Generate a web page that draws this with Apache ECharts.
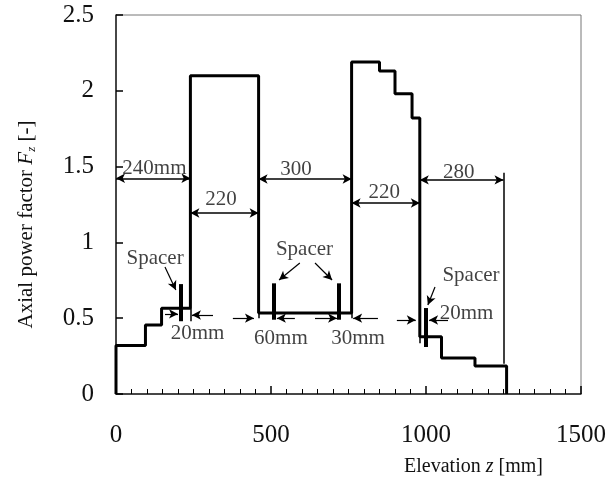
<!DOCTYPE html>
<html>
<head>
<meta charset="utf-8">
<script src="https://cdn.jsdelivr.net/npm/echarts@6/dist/echarts.min.js"></script>
<style>
  html, body { margin: 0; padding: 0; background: #fff; }
  #main { width: 609px; height: 484px; }
</style>
</head>
<body>
<div id="main"></div>
<script>
// step profile: edges of each zone and the level inside it
var zEdges = [0, 95, 147, 240, 460, 760, 850, 900, 955, 980, 1050, 1158, 1260]
var fLevels = [0.32, 0.455, 0.565, 2.1, 0.535, 2.19, 2.13, 1.98, 1.82, 0.378, 0.237, 0.185]

// spacers
var spacerZ = [208, 510, 720, 1000]
var spacerLow = [0.48, 0.49, 0.49, 0.31]
var spacerHigh = [0.725, 0.73, 0.73, 0.567]

// long dimension arrows
var dimText = ['240mm', '220', '300', '220', '280']
var dimFrom = [0, 240, 460, 760, 980]
var dimTo = [240, 460, 760, 980, 1250]
var dimF = [1.423, 1.194, 1.418, 1.26, 1.412]
var dimTextZ = [124, 339, 581, 865, 1106]
var dimTextF = [1.49, 1.28, 1.484, 1.332, 1.464]

// short arrows for the spacer gaps
var gapFromZ = [158, 313, 377, 577, 642, 845, 906, 1071]
var gapToZ = [200, 245, 445, 519, 713, 765, 967, 1010]
var gapF = [0.528, 0.521, 0.5, 0.5, 0.5, 0.5, 0.488, 0.488]

// arrows from the "Spacer" words
var ptrFromZ = [158, 593, 642, 1029]
var ptrFromF = [0.838, 0.864, 0.864, 0.706]
var ptrToZ = [193, 526, 697, 1006]
var ptrToF = [0.686, 0.752, 0.752, 0.587]

// thin extension lines
var extZ = [1250, 240, 980, 460, 760]
var extLow = [0.2, 0.48, 0.335, 0.5, 0.5]
var extHigh = [1.46, 0.565, 0.378, 0.535, 0.535]

// words
var noteText = ['Spacer', 'Spacer', 'Spacer', '20mm', '60mm', '30mm', '20mm']
var noteZ = [126, 608, 1145, 263, 532, 781, 1131]
var noteF = [0.897, 0.95, 0.785, 0.396, 0.369, 0.369, 0.534]

var xTicks = [0, 1500, 500]
var yTicks = [0, 2.5, 0.5]

var serif = 'Liberation Serif'

function buildProfile() {
  var pts = [[zEdges[0], 0]]
  for (var i = 0; i < fLevels.length; i++) {
    pts.push([zEdges[i], fLevels[i]])
    pts.push([zEdges[i + 1], fLevels[i]])
  }
  pts.push([zEdges[zEdges.length - 1], 0])
  return pts
}

function segs(x1, y1, x2, y2) {
  var out = []
  for (var i = 0; i < x1.length; i++) {
    out.push([{ coord: [x1[i], y1[i]] }, { coord: [x2[i], y2[i]] }])
  }
  return out
}

function dimLabels() {
  var out = []
  for (var i = 0; i < dimText.length; i++) out.push({ name: dimText[i], value: [dimTextZ[i], dimTextF[i]] })
  for (var j = 0; j < noteText.length; j++) out.push({ name: noteText[j], value: [noteZ[j], noteF[j]] })
  return out
}

var myChart = echarts.init(document.getElementById('main'))
var option = {
  animation: false,
  grid: {
    left: 116, right: 28, top: 15, bottom: 90,
    show: true, borderColor: '#777', borderWidth: 1
  },
  xAxis: {
    type: 'value',
    min: xTicks[0], max: xTicks[1], interval: xTicks[2],
    name: '{n|Elevation }{i|z}{n| [mm]}',
    nameLocation: 'middle',
    nameGap: 63,
    nameTextStyle: {
      padding: [0, 0, 0, 250],
      rich: {
        n: { fontFamily: serif, fontSize: 20, color: '#111' },
        i: { fontFamily: serif, fontSize: 20, fontStyle: 'italic', color: '#111' }
      }
    },
    axisLine: { show: true, lineStyle: { color: '#222', width: 1.5 } },
    axisTick: { show: true, inside: true, length: 8, lineStyle: { color: '#000', width: 1.5 } },
    minorTick: { show: true, splitNumber: 10, length: 5, lineStyle: { color: '#000', width: 1 } },
    axisLabel: {
      fontFamily: serif, fontSize: 25, color: '#111', margin: 29,
      formatter: function (v) { return String(v) }
    },
    splitLine: { show: false }
  },
  yAxis: {
    type: 'value',
    min: yTicks[0], max: yTicks[1], interval: yTicks[2],
    name: '{n|Axial power factor }{i|F}{s|z}{n| [-]}',
    nameLocation: 'middle',
    nameGap: 78,
    nameTextStyle: {
      padding: [0, 40, 0, 0],
      rich: {
        n: { fontFamily: serif, fontSize: 21, color: '#111' },
        i: { fontFamily: serif, fontSize: 21, fontStyle: 'italic', color: '#111' },
        s: { fontFamily: serif, fontSize: 13, fontStyle: 'italic', color: '#111', padding: [10, 0, 0, 0] }
      }
    },
    axisLine: { show: true, lineStyle: { color: '#222', width: 1.5 } },
    axisTick: { show: true, inside: true, length: 7, lineStyle: { color: '#000', width: 1.5 } },
    axisLabel: { fontFamily: serif, fontSize: 25, color: '#111', margin: 22 },
    splitLine: { show: false }
  },
  series: [
    {
      name: 'profile',
      type: 'line',
      data: buildProfile(),
      symbol: 'none',
      silent: true,
      lineStyle: { color: '#000', width: 3 },
      z: 5
    },
    {
      name: 'spacers',
      type: 'line',
      data: [],
      markLine: {
        silent: true, symbol: ['none', 'none'],
        label: { show: false },
        lineStyle: { color: '#000', width: 4, type: 'solid' },
        data: segs(spacerZ, spacerLow, spacerZ, spacerHigh)
      }
    },
    {
      name: 'extension',
      type: 'line',
      data: [],
      markLine: {
        silent: true, symbol: ['none', 'none'],
        label: { show: false },
        lineStyle: { color: '#000', width: 1.5, type: 'solid' },
        data: segs(extZ, extLow, extZ, extHigh)
      }
    },
    {
      name: 'dims',
      type: 'line',
      data: [],
      markLine: {
        silent: true, symbol: ['arrow', 'arrow'], symbolSize: [7, 9],
        label: { show: false },
        lineStyle: { color: '#000', width: 1.5, type: 'solid' },
        data: segs(dimFrom, dimF, dimTo, dimF)
      }
    },
    {
      name: 'gaps',
      type: 'line',
      data: [],
      markLine: {
        silent: true, symbol: ['none', 'arrow'], symbolSize: [7, 9],
        label: { show: false },
        lineStyle: { color: '#000', width: 1.2, type: 'solid' },
        data: segs(gapFromZ, gapF, gapToZ, gapF)
      }
    },
    {
      name: 'pointers',
      type: 'line',
      data: [],
      markLine: {
        silent: true, symbol: ['none', 'arrow'], symbolSize: [7, 9],
        label: { show: false },
        lineStyle: { color: '#000', width: 1.2, type: 'solid' },
        data: segs(ptrFromZ, ptrFromF, ptrToZ, ptrToF)
      }
    },
    {
      name: 'notes',
      type: 'scatter',
      data: dimLabels(),
      symbolSize: 1,
      silent: true,
      itemStyle: { color: 'rgba(0,0,0,0)' },
      label: {
        show: true, position: 'inside',
        formatter: '{b}',
        fontFamily: serif, fontSize: 21, color: '#111'
      },
      z: 6
    }
  ]
}
myChart.setOption(option)
</script>
</body>
</html>
